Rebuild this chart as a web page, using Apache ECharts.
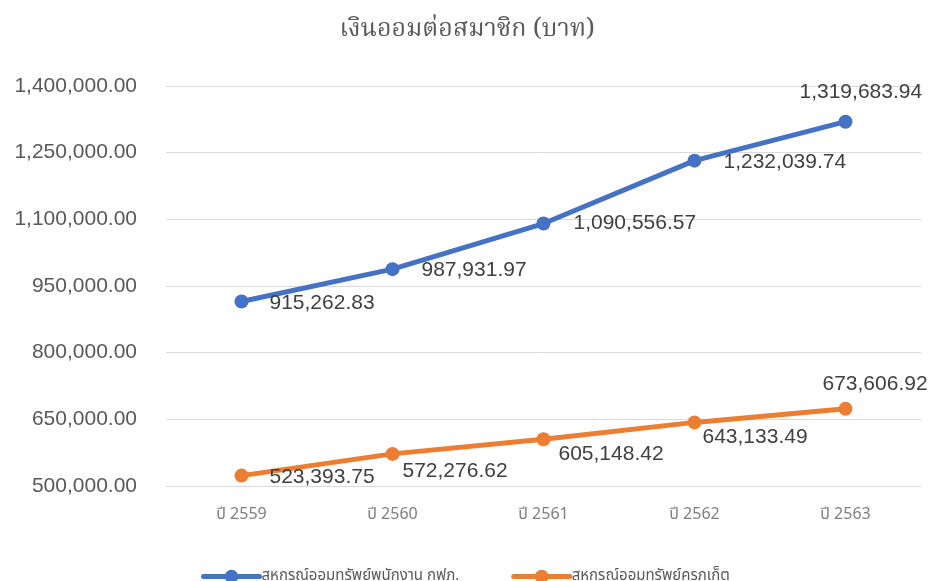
<!DOCTYPE html>
<html>
<head>
<meta charset="utf-8">
<script src="https://cdn.jsdelivr.net/npm/echarts@6/dist/echarts.min.js"></script>
<style>
html,body{margin:0;padding:0;background:#fff;}
#c{width:934px;height:581px;}
</style>
</head>
<body>
<div id="c"></div>
<script>
const titleText = 'เงินออมต่อสมาชิก (บาท)';
const categories = ['ปี 2559', 'ปี 2560', 'ปี 2561', 'ปี 2562', 'ปี 2563'];
const seriesNames = ['สหกรณ์ออมทรัพย์พนักงาน กฟภ.', 'สหกรณ์ออมทรัพย์ครูภูเก็ต'];
const egatValues = [915262.83, 987931.97, 1090556.57, 1232039.74, 1319683.94];
const phuketValues = [523393.75, 572276.62, 605148.42, 643133.49, 673606.92];
const yTicks = { min: 500000, max: 1400000, interval: 150000 };

// label offsets (style only)
const egatOffsets = [[21, 2], [22, 1], [23, 0], [22, 2], [-53, -29]];
const phuketOffsets = [[21, 2], [3, 17], [8, 15], [1, 15], [-30, -25]];

const colors = ['#4472C4', '#ED7D31'];
const numFont = '"Liberation Sans", Arial, sans-serif';
const thaiFont = '"Noto Sans Thai", "Liberation Sans", sans-serif';
const titleFont = '"Noto Serif Thai", "Liberation Serif", serif';

function fmt(v) {
  return v.toLocaleString('en-US', { minimumFractionDigits: 2, maximumFractionDigits: 2 });
}

function buildData(values, offsets) {
  return values.map((v, i) => ({
    value: v,
    label: { offset: offsets[i] }
  }));
}

function makeSeries(name, values, offsets, color) {
  return {
    name: name,
    type: 'line',
    data: buildData(values, offsets),
    symbol: 'circle',
    symbolSize: 14,
    lineStyle: { width: 5, color: color, cap: 'round' },
    itemStyle: { color: color },
    label: {
      show: true,
      position: 'right',
      distance: 0,
      fontFamily: numFont,
      fontSize: 21,
      color: '#404040',
      formatter: p => fmt(p.value)
    },
    emphasis: { disabled: true },
    animation: false
  };
}

const chart = echarts.init(document.getElementById('c'), null, { renderer: 'canvas' });
chart.setOption({
  animation: false,
  color: colors,
  title: {
    text: titleText,
    left: 'center',
    top: 14,
    textStyle: { fontFamily: titleFont, fontSize: 25, fontWeight: 'normal', color: '#595959' }
  },
  grid: { left: 166, right: 13, top: 86, bottom: 95, containLabel: false },
  xAxis: {
    type: 'category',
    data: categories,
    boundaryGap: true,
    axisLine: { show: false },
    axisTick: { show: false },
    axisLabel: { margin: 22, fontFamily: thaiFont, fontSize: 16, color: '#7f7f7f' }
  },
  yAxis: {
    type: 'value',
    min: yTicks.min,
    max: yTicks.max,
    interval: yTicks.interval,
    axisLine: { show: false },
    axisTick: { show: false },
    splitLine: { lineStyle: { color: '#d9d9d9', width: 1 } },
    axisLabel: {
      margin: 29,
      fontFamily: numFont,
      fontSize: 21,
      color: '#595959',
      formatter: v => fmt(v)
    }
  },
  legend: {
    left: 196,
    top: 564,
    itemWidth: 56,
    itemHeight: 17,
    itemGap: 52,
    lineStyle: { width: 5 },
    textStyle: { fontFamily: thaiFont, fontSize: 15, color: '#595959', padding: [0, 0, 0, -3] },
    data: seriesNames
  },
  series: [
    makeSeries(seriesNames[0], egatValues, egatOffsets, colors[0]),
    makeSeries(seriesNames[1], phuketValues, phuketOffsets, colors[1])
  ]
});
</script>
</body>
</html>
